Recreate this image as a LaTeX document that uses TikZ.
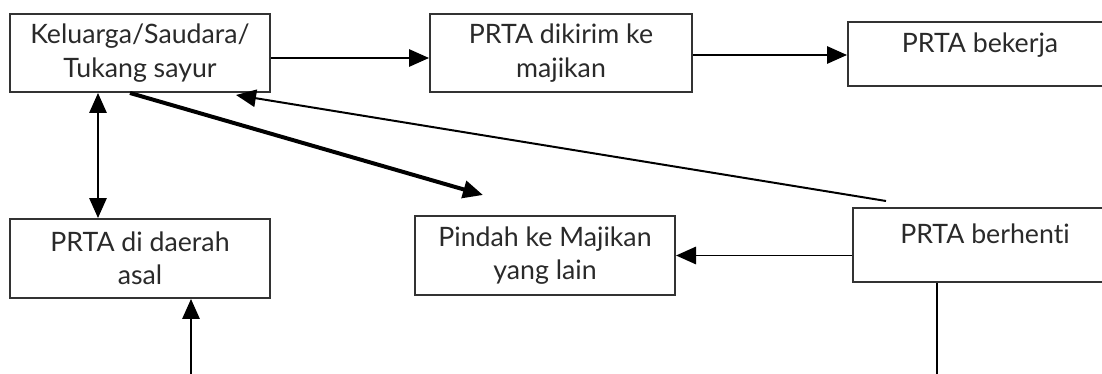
\documentclass[tikz,border=0pt]{standalone}
\usepackage{fontspec}
\setmainfont{Lato}[Ligatures={NoCommon}]
\usetikzlibrary{arrows.meta,calc,positioning}
\definecolor{cink}{HTML}{000000}
\definecolor{cbox}{HTML}{333333}
\definecolor{ctext}{HTML}{2A2A2A}

\begin{document}
\begin{tikzpicture}[
    x=0.03cm, y=-0.03cm,
    >={Triangle[length=6mm, width=5.2mm]},
    sig/.style={->, line width=1.7pt, draw=cink},
    bisig/.style={<->, line width=1.7pt, draw=cink},
    fat/.style={->, line width=3.4pt, draw=cink},
    wire/.style={line width=1.7pt, draw=cink},
    blk/.style={draw=cbox, line width=1.7pt, align=center, text=ctext,
                font=\fontsize{22.8}{28.5}\selectfont, inner sep=0pt},
    two/.style={blk, minimum height=2.34cm},
    one/.style={blk},
  ]
  % the page is the canvas of the reference, boxes on the right run past it
  \path[use as bounding box] (0,0) rectangle (1102,374);
  % == upper row
  \node[two, minimum width=7.8cm] (kel) at (140,53)
    {Keluarga/Saudara/\\Tukang sayur};
  \node[two, minimum width=7.86cm] (kirim) at (561,53)
    {PRTA dikirim ke\\majikan};
  \node[one, minimum width=7.92cm, text height=0.92cm, text depth=1.0cm] (kerja) at (980,54)
    {PRTA bekerja};
  % == lower row
  \node[two, minimum width=7.8cm, minimum height=2.37cm] (asal) at (140,258.5)
    {PRTA di daerah\\asal};
  \node[two, minimum width=7.8cm, minimum height=2.37cm] (pindah) at (545,255.5)
    {Pindah ke Majikan\\yang lain};
  \node[one, minimum width=7.92cm, text height=1.07cm, text depth=1.15cm] (henti) at (985,245)
    {PRTA berhenti};
  % loose ends at the bottom edge and the open arrow head
  \coordinate (bawah1) at (191,374);
  \coordinate (bawah2) at (937,374);
  \coordinate (tujuan) at (483,195);
  % connectors
  \draw[sig] ([yshift=-1.5mm]kel.east) -- ([yshift=-1.5mm]kirim.west);
  \draw[sig] ([yshift=-0.6mm]kirim.east) -- ([yshift=-0.6mm]kirim.east -| kerja.west);
  \draw[bisig] ([xshift=-12.6mm]kel.south) -- ([xshift=-12.6mm]kel.south |- asal.north);
  \draw[sig] (bawah1) -- (bawah1 |- asal.south);
  \draw[fat] ([xshift=-3mm]kel.south) -- (tujuan);
  \draw[sig] ($(henti.north west)+(34,-6)$) -- ($(kel.south east)+(-35,2)$);
  \draw[sig] (henti.west |- pindah.east) -- (pindah.east);
  \draw[wire] (bawah2 |- henti.south) -- (bawah2);
\end{tikzpicture}
\end{document}
